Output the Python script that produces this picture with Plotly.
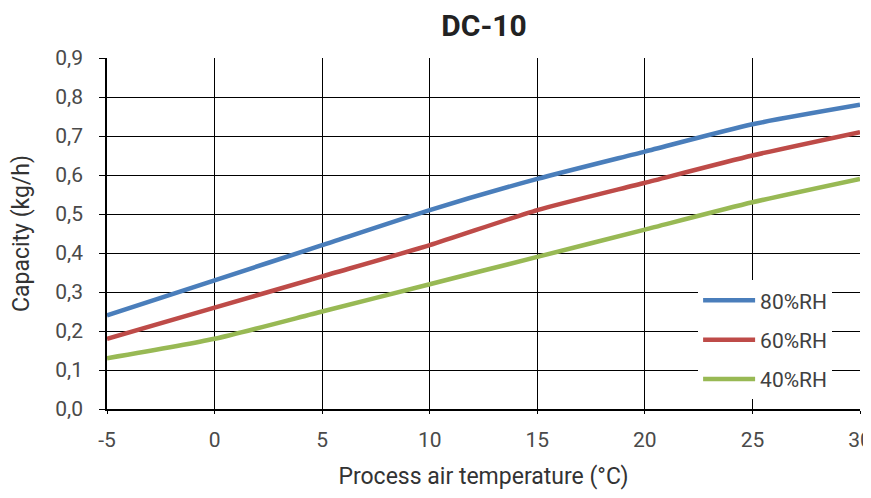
import plotly.graph_objects as go

temps = [-5, 0, 5, 10, 15, 20, 25, 30]
temp_labels = ["-5", "0", "5", "10", "15", "20", "25", "30"]
rh80 = [0.24, 0.33, 0.42, 0.51, 0.59, 0.66, 0.73, 0.78]
rh60 = [0.18, 0.26, 0.34, 0.42, 0.51, 0.58, 0.65, 0.71]
rh40 = [0.13, 0.18, 0.25, 0.32, 0.39, 0.46, 0.53, 0.59]
names = ["80%RH", "60%RH", "40%RH"]
colors = ["#4A7EBB", "#BE4B48", "#98B954"]

fig = go.Figure()
for i, (name, vals, col) in enumerate(zip(names, [rh80, rh60, rh40], colors)):
    fig.add_trace(go.Scatter(x=temps, y=vals, name=name, mode="lines",
                             line=dict(color=col, width=4.5, shape="spline", smoothing=0.6),
                             legendgroup=str(i)))

font = "Roboto"
narrow = "Liberation Sans Narrow, Arial Narrow, Roboto"
W, H = 863, 482
fig.update_layout(
    width=W, height=H,
    margin=dict(l=99, r=11, t=50, b=81, autoexpand=False),
    paper_bgcolor="white", plot_bgcolor="white",
    separators=", ",
    title=dict(text="<b>DC-10</b>", x=476 / W, xanchor="center",
               y=1 - 17 / H, yanchor="middle",
               font=dict(family=font, size=30, color="#222222")),
    font=dict(family=narrow, size=20, color="#404040"),
    showlegend=True,
    legend=dict(x=0.785, y=0.367, xanchor="left", yanchor="top",
                bgcolor="white", borderwidth=0, itemwidth=52,
                font=dict(family=narrow, size=21, color="#404040"),
                traceorder="grouped", tracegroupgap=9),
    xaxis=dict(range=[-5, 30], tickvals=temps, ticktext=temp_labels,
               showgrid=True, gridcolor="black", gridwidth=1.3,
               showline=True, linecolor="black", linewidth=1.5, mirror=False,
               ticks="outside", ticklen=3, tickcolor="black", zeroline=False,
               automargin=False, ticklabelstandoff=8, ticklabeloverflow="allow",
               title=dict(text="Process air temperature (°C)", standoff=18,
                          font=dict(family=narrow, size=23, color="#333333")),
               tickfont=dict(family=narrow, size=21, color="#4a4a4a")),
    yaxis=dict(range=[0, 0.9], dtick=0.1, tickformat=".1f",
               showgrid=True, gridcolor="black", gridwidth=1.3,
               showline=True, linecolor="black", linewidth=1.5,
               ticks="outside", ticklen=6, tickcolor="black", zeroline=False,
               automargin=False, ticklabelstandoff=12,
               title=dict(text="Capacity (kg/h)", standoff=34,
                          font=dict(family=narrow, size=23, color="#333333")),
               tickfont=dict(family=narrow, size=21, color="#4a4a4a")),
)
fig.write_html("out.html")
